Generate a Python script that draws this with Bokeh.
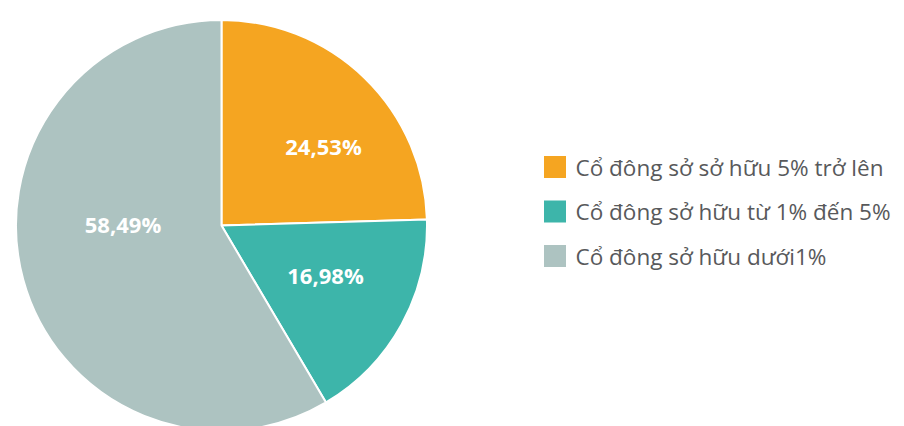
import math
from bokeh.plotting import figure
from bokeh.models import Range1d, ColumnDataSource
from bokeh.core.properties import value
from bokeh.embed import file_html
from bokeh.resources import INLINE

# ---- data ----
categories = ["Cổ đông sở sở hữu 5% trở lên",
              "Cổ đông sở hữu từ 1%  đến 5%",
              "Cổ đông sở hữu dưới1%"]
shares = [24.53, 16.98, 58.49]
share_labels = ["24,53%", "16,98%", "58,49%"]
colors = ["#F5A521", "#3DB5AA", "#ADC3C1"]

# ---- layout ----
W, H = 904, 426
CX, CY = 221, 201          # pie centre (data units = px)
R = 205.5                  # radius in px
# label offsets (dx, dy) from the centre, px
label_offsets = [(102, 80), (104, -49), (-98.5, 2)]
LEG_X, LEG_Y0, LEG_DY, LEG_SZ = 554.5, 259.5, 44.5, 22
TXT_X = 575

p = figure(width=W, height=H, output_backend="svg", toolbar_location=None,
           x_range=Range1d(0, W), y_range=Range1d(0, H),
           min_border=0, outline_line_color=None, background_fill_color="white")
p.axis.visible = False
p.grid.visible = False

total = sum(shares)
starts, ends = [], []
acc = 0.0
for s in shares:
    starts.append(math.pi / 2 - 2 * math.pi * acc / total)
    acc += s
    ends.append(math.pi / 2 - 2 * math.pi * acc / total)

src = ColumnDataSource(dict(x=[CX] * 3, y=[CY] * 3, start=starts, end=ends, color=colors))
p.wedge(x="x", y="y", radius=R, radius_units="screen", start_angle="start", end_angle="end",
        direction="clock", fill_color="color", line_color="white", line_width=2, source=src)

lsrc = ColumnDataSource(dict(x=[CX + dx for dx, dy in label_offsets],
                             y=[CY + dy for dx, dy in label_offsets],
                             t=share_labels))
p.text(x="x", y="y", text="t", source=lsrc, text_color="white", text_align="center",
       text_baseline="middle", text_font=value("Open Sans"), text_font_style="bold",
       text_font_size="22px")

ly = [LEG_Y0 - i * LEG_DY for i in range(len(categories))]
gsrc = ColumnDataSource(dict(x=[LEG_X] * 3, y=ly, color=colors, t=categories, tx=[TXT_X] * 3))
p.rect(x="x", y="y", width=LEG_SZ, height=LEG_SZ, width_units="screen", height_units="screen",
       fill_color="color", line_color=None, source=gsrc)
p.text(x="tx", y="y", text="t", source=gsrc, text_color="#58595B", text_align="left",
       text_baseline="middle", text_font=value("Open Sans"), text_font_size="22.5px")

open("out.html", "w").write(file_html(p, INLINE))
